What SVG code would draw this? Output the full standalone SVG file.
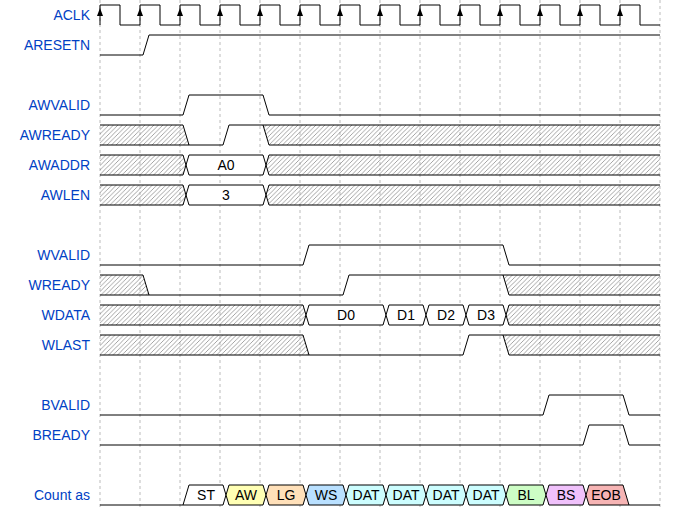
<svg xmlns="http://www.w3.org/2000/svg" width="680" height="510" viewBox="0 0 680 510">
<style>
.lbl{font-family:"Liberation Sans",Arial,sans-serif;font-size:14px;fill:#0041c4;text-anchor:end}
.dt{font-family:"Liberation Sans",Arial,sans-serif;font-size:14px;fill:#000;text-anchor:middle}
.w{fill:none;stroke:#000;stroke-width:1}
.box{stroke:#000;stroke-width:1}
.grid{stroke:#bbb;stroke-width:1;stroke-dasharray:3,3}
.h{fill:url(#hatch);stroke:none}
</style>
<defs>
<pattern id="hatch" width="4.5" height="4.5" patternUnits="userSpaceOnUse">
<path d="M-1,1 L1,-1 M0,4.5 L4.5,0 M3.5,5.5 L5.5,3.5" stroke="#666" stroke-width="0.6"/>
</pattern>
</defs>
<rect width="680" height="510" fill="#fff"/>
<g id="grid">
<path class="grid" d="M100,0V510M140,0V510M180,0V510M220,0V510M260,0V510M300,0V510M340,0V510M380,0V510M420,0V510M460,0V510M500,0V510M540,0V510M580,0V510M620,0V510M660,0V510"/>
</g>
<g id="ACLK">
<text class="lbl" x="90" y="20">ACLK</text>
<path class="w" d="M100,25V5H120V25H140V5H160V25H180V5H200V25H220V5H240V25H260V5H280V25H300V5H320V25H340V5H360V25H380V5H400V25H420V5H440V25H460V5H480V25H500V5H520V25H540V5H560V25H580V5H600V25H620V5H640V25H660"/>
<g fill="#000">
<polygon points="100,8 97,16 103,16"/><polygon points="140,8 137,16 143,16"/><polygon points="180,8 177,16 183,16"/><polygon points="220,8 217,16 223,16"/><polygon points="260,8 257,16 263,16"/><polygon points="300,8 297,16 303,16"/><polygon points="340,8 337,16 343,16"/><polygon points="380,8 377,16 383,16"/><polygon points="420,8 417,16 423,16"/><polygon points="460,8 457,16 463,16"/><polygon points="500,8 497,16 503,16"/><polygon points="540,8 537,16 543,16"/><polygon points="580,8 577,16 583,16"/><polygon points="620,8 617,16 623,16"/>
</g>
</g>
<g id="ARESETN">
<text class="lbl" x="90" y="50">ARESETN</text>
<path class="w" d="M100,55H143L149,35H660"/>
</g>
<g id="AWVALID">
<text class="lbl" x="90" y="110">AWVALID</text>
<path class="w" d="M100,115H183L189,95H263L269,115H660"/>
</g>
<g id="AWREADY">
<text class="lbl" x="90" y="140">AWREADY</text>
<polygon class="h" points="100,125 183,125 189,145 100,145"/>
<polygon class="h" points="263,125 660,125 660,145 269,145"/>
<path class="w" d="M100,125H183L189,145M100,145H223L229,125H660M263,125L269,145H660"/>
</g>
<g id="AWADDR">
<text class="lbl" x="90" y="170">AWADDR</text>
<polygon class="h" points="100,155 183,155 186,165 183,175 100,175"/>
<polygon class="box" fill="#fff" points="186,165 189,155 263,155 266,165 263,175 189,175"/>
<polygon class="h" points="266,165 269,155 660,155 660,175 269,175"/>
<path class="w" d="M100,155H183L186,165L183,175H100M266,165L269,155H660M269,175H660L660,175M266,165L269,175"/>
<text class="dt" x="226" y="170">A0</text>
</g>
<g id="AWLEN">
<text class="lbl" x="90" y="200">AWLEN</text>
<polygon class="h" points="100,185 183,185 186,195 183,205 100,205"/>
<polygon class="box" fill="#fff" points="186,195 189,185 263,185 266,195 263,205 189,205"/>
<polygon class="h" points="266,195 269,185 660,185 660,205 269,205"/>
<path class="w" d="M100,185H183L186,195L183,205H100M266,195L269,185H660M266,195L269,205H660"/>
<text class="dt" x="226" y="200">3</text>
</g>
<g id="WVALID">
<text class="lbl" x="90" y="260">WVALID</text>
<path class="w" d="M100,265H303L309,245H503L509,265H660"/>
</g>
<g id="WREADY">
<text class="lbl" x="90" y="290">WREADY</text>
<polygon class="h" points="100,275 143,275 149,295 100,295"/>
<polygon class="h" points="503,275 660,275 660,295 509,295"/>
<path class="w" d="M100,275H143L149,295M100,295H343L349,275H660M503,275L509,295H660"/>
</g>
<g id="WDATA">
<text class="lbl" x="90" y="320">WDATA</text>
<polygon class="h" points="100,305 303,305 306,315 303,325 100,325"/>
<polygon class="h" points="506,315 509,305 660,305 660,325 509,325"/>
<path class="w" d="M100,305H303L306,315L303,325H100M506,315L509,305H660M506,315L509,325H660"/>
<polygon class="box" fill="#fff" points="306,315 309,305 383,305 386,315 383,325 309,325"/>
<polygon class="box" fill="#fff" points="386,315 389,305 423,305 426,315 423,325 389,325"/>
<polygon class="box" fill="#fff" points="426,315 429,305 463,305 466,315 463,325 429,325"/>
<polygon class="box" fill="#fff" points="466,315 469,305 503,305 506,315 503,325 469,325"/>
<text class="dt" x="346" y="320">D0</text>
<text class="dt" x="406" y="320">D1</text>
<text class="dt" x="446" y="320">D2</text>
<text class="dt" x="486" y="320">D3</text>
</g>
<g id="WLAST">
<text class="lbl" x="90" y="350">WLAST</text>
<polygon class="h" points="100,335 303,335 309,355 100,355"/>
<polygon class="h" points="503,335 660,335 660,355 509,355"/>
<path class="w" d="M100,335H303L309,355M100,355H463L469,335H660M503,335L509,355H660"/>
</g>
<g id="BVALID">
<text class="lbl" x="90" y="410">BVALID</text>
<path class="w" d="M100,415H543L549,395H623L629,415H660"/>
</g>
<g id="BREADY">
<text class="lbl" x="90" y="440">BREADY</text>
<path class="w" d="M100,445H583L589,425H623L629,445H660"/>
</g>
<g id="Count">
<text class="lbl" x="90" y="500">Count as</text>
<path class="w" d="M100,505H183M629,505H660"/>
<polygon class="box" fill="#fff" points="183,505 189,485 223,485 226,495 223,505"/>
<polygon class="box" fill="#ffffb4" points="226,495 229,485 263,485 266,495 263,505 229,505"/>
<polygon class="box" fill="#ffe0b9" points="266,495 269,485 303,485 306,495 303,505 269,505"/>
<polygon class="box" fill="#b9e0ff" points="306,495 309,485 343,485 346,495 343,505 309,505"/>
<polygon class="box" fill="#ccfdfe" points="346,495 349,485 383,485 386,495 383,505 349,505"/>
<polygon class="box" fill="#ccfdfe" points="386,495 389,485 423,485 426,495 423,505 389,505"/>
<polygon class="box" fill="#ccfdfe" points="426,495 429,485 463,485 466,495 463,505 429,505"/>
<polygon class="box" fill="#ccfdfe" points="466,495 469,485 503,485 506,495 503,505 469,505"/>
<polygon class="box" fill="#cdfdc5" points="506,495 509,485 543,485 546,495 543,505 509,505"/>
<polygon class="box" fill="#f0c1fb" points="546,495 549,485 583,485 586,495 583,505 549,505"/>
<polygon class="box" fill="#f6b4b4" points="586,495 589,485 623,485 629,505 589,505"/>
<text class="dt" x="206" y="500">ST</text>
<text class="dt" x="246" y="500">AW</text>
<text class="dt" x="286" y="500">LG</text>
<text class="dt" x="326" y="500">WS</text>
<text class="dt" x="366" y="500">DAT</text>
<text class="dt" x="406" y="500">DAT</text>
<text class="dt" x="446" y="500">DAT</text>
<text class="dt" x="486" y="500">DAT</text>
<text class="dt" x="526" y="500">BL</text>
<text class="dt" x="566" y="500">BS</text>
<text class="dt" x="606" y="500">EOB</text>
</g>
</svg>
